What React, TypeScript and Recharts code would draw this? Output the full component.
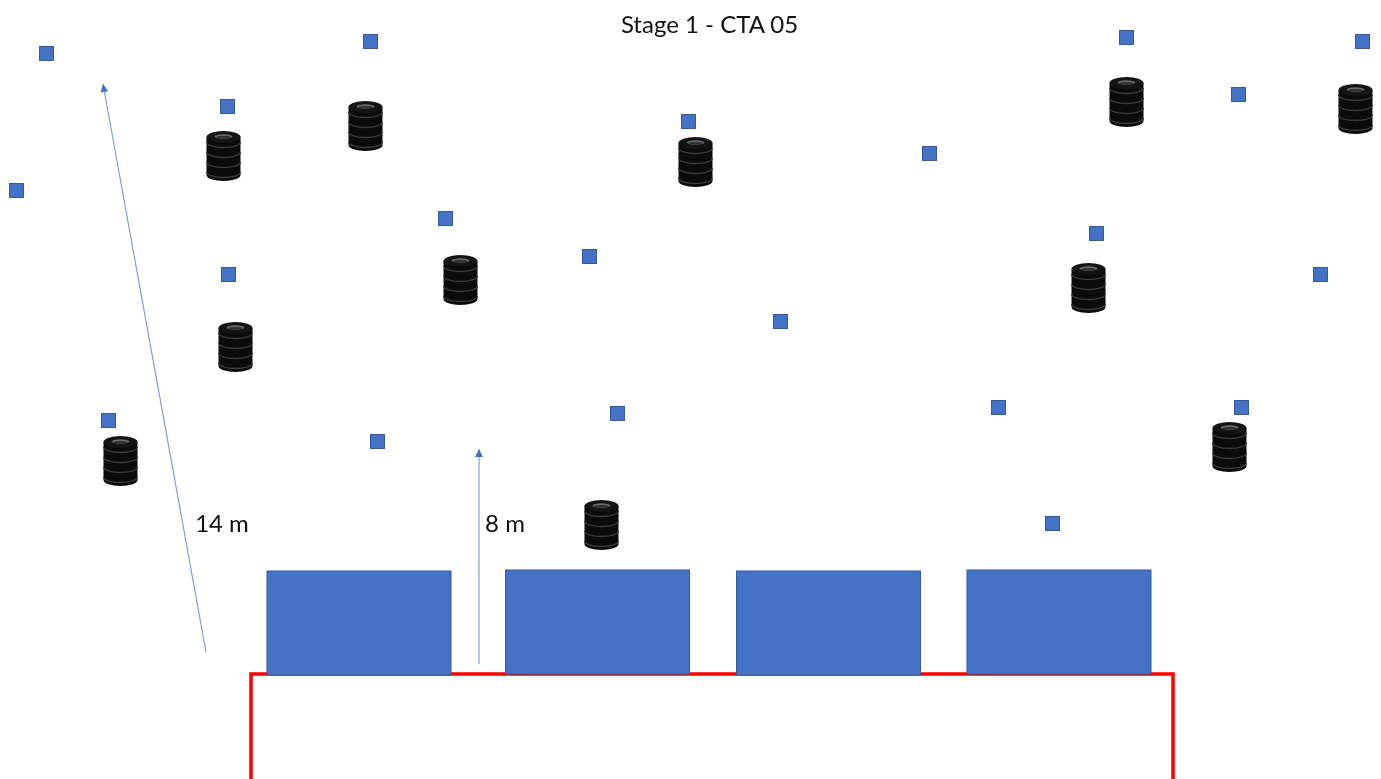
import React from 'react';
import { ScatterChart, Scatter, XAxis, YAxis } from 'recharts';

const W = 1381;
const H = 779;
const BLUE = '#4472C4';
const EDGE = '#35599F';
const FONT = 'Lato, Carlito, sans-serif';

const markers = [
  { x: 46, y: 53 }, { x: 370, y: 41 }, { x: 227, y: 106 }, { x: 16, y: 190 },
  { x: 688, y: 121 }, { x: 929, y: 153 }, { x: 1126, y: 37 }, { x: 1238, y: 94 },
  { x: 1362, y: 41 }, { x: 445, y: 218 }, { x: 589, y: 256 }, { x: 228, y: 274 },
  { x: 780, y: 321 }, { x: 1096, y: 233 }, { x: 1320, y: 274 }, { x: 108, y: 420 },
  { x: 377, y: 441 }, { x: 617, y: 413 }, { x: 998, y: 407 }, { x: 1241, y: 407 },
  { x: 1052, y: 523 },
];

const tyres = [
  { x: 223, y: 156 }, { x: 365, y: 126 }, { x: 695, y: 162 }, { x: 1126, y: 102 },
  { x: 1355, y: 109 }, { x: 460, y: 280 }, { x: 1088, y: 288 }, { x: 235, y: 347 },
  { x: 120, y: 461 }, { x: 601, y: 525 }, { x: 1229, y: 447 },
];

const blocks = [
  { x: 267, y: 571, w: 184, h: 104 },
  { x: 505.5, y: 570, w: 184, h: 104 },
  { x: 736.5, y: 571, w: 184, h: 104 },
  { x: 967, y: 570, w: 184, h: 104 },
];

const boundary = [
  { x: 251, y: 779 }, { x: 251, y: 674 }, { x: 1173, y: 674 }, { x: 1173, y: 779 },
];

const arrowLong = [{ x: 103, y: 84 }, { x: 206, y: 652 }];
const arrowShort = [{ x: 479, y: 449 }, { x: 479, y: 664 }];

const labels = [
  { x: 709.5, y: 23.5, text: 'Stage 1 - CTA 05' },
  { x: 222, y: 522.5, text: '14 m' },
  { x: 505, y: 522.5, text: '8 m' },
];

const MarkerShape = (p: any) => (
  <rect x={p.cx - 6.5} y={p.cy - 6.5} width={14} height={14} fill={BLUE} stroke={EDGE} strokeWidth={1} />
);

const BlockShape = (p: any) => (
  <rect x={p.cx} y={p.cy} width={p.payload.w} height={p.payload.h} fill={BLUE} stroke={EDGE} strokeWidth={1} />
);

const TyreShape = (p: any) => {
  const { cx, cy } = p;
  const x = cx + 0.5;
  const rx = 17;
  const bands = [-12, -2, 8, 18];
  return (
    <g>
      <path
        d={`M${x - rx},${cy - 19} L${x - rx},${cy + 19} A${rx},6 0 0 0 ${x + rx},${cy + 19} L${x + rx},${cy - 19} Z`}
        fill="#0b0b0b"
      />
      {bands.map((b) => (
        <path
          key={b}
          d={`M${x - rx},${cy + b - 2} A${rx},5.5 0 0 0 ${x + rx},${cy + b - 2}`}
          fill="none"
          stroke="#3c3c3c"
          strokeWidth={1.3}
        />
      ))}
      <ellipse cx={x} cy={cy - 19} rx={rx} ry={6} fill="#141414" />
      <ellipse cx={x} cy={cy - 19.5} rx={9} ry={2.2} fill="#6a6a6a" />
      <ellipse cx={x} cy={cy - 18.8} rx={7} ry={1.3} fill="#303030" />
    </g>
  );
};

const ArrowEnd = (p: any) => {
  if (p.index !== 0) return <g />;
  const next = p.nextPoint;
  const { cx, cy } = p;
  const dx = next.x - p.payload.x;
  const dy = next.y - p.payload.y;
  const len = Math.hypot(dx, dy);
  const ux = dx / len;
  const uy = dy / len;
  const bx = cx + ux * 8;
  const by = cy + uy * 8;
  return (
    <polygon
      points={`${cx},${cy} ${bx - uy * 4},${by + ux * 4} ${bx + uy * 4},${by - ux * 4}`}
      fill={BLUE}
    />
  );
};

const TextShape = (p: any) => (
  <text x={p.cx} y={p.cy} textAnchor="middle" dominantBaseline="central" fontFamily={FONT} fontSize={24} fill="#111">
    {p.payload.text}
  </text>
);

const Nothing = () => <g />;

export default function App() {
  return (
    <div style={{ position: 'absolute', left: 0, top: 0, width: W, height: H, background: '#fff', filter: 'blur(0.45px)' }}>
      <ScatterChart width={W} height={H} margin={{ top: 0, right: 0, bottom: 0, left: 0 }}>
        <XAxis type="number" dataKey="x" domain={[0, W]} hide allowDataOverflow />
        <YAxis type="number" dataKey="y" domain={[0, H]} reversed hide allowDataOverflow />
        <Scatter
          data={boundary}
          line={{ stroke: '#FF0000', strokeWidth: 3.5 }}
          shape={Nothing}
          isAnimationActive={false}
        />
        <Scatter data={blocks} shape={BlockShape} isAnimationActive={false} />
        <Scatter
          data={arrowLong}
          line={{ stroke: '#7F9FD8', strokeWidth: 1.2 }}
          shape={(p: any) => <ArrowEnd {...p} nextPoint={arrowLong[1]} />}
          isAnimationActive={false}
        />
        <Scatter
          data={arrowShort}
          line={{ stroke: '#7F9FD8', strokeWidth: 1.2 }}
          shape={(p: any) => <ArrowEnd {...p} nextPoint={arrowShort[1]} />}
          isAnimationActive={false}
        />
        <Scatter data={tyres} shape={TyreShape} isAnimationActive={false} />
        <Scatter data={markers} shape={MarkerShape} isAnimationActive={false} />
        <Scatter data={labels} shape={TextShape} isAnimationActive={false} />
      </ScatterChart>
    </div>
  );
}
